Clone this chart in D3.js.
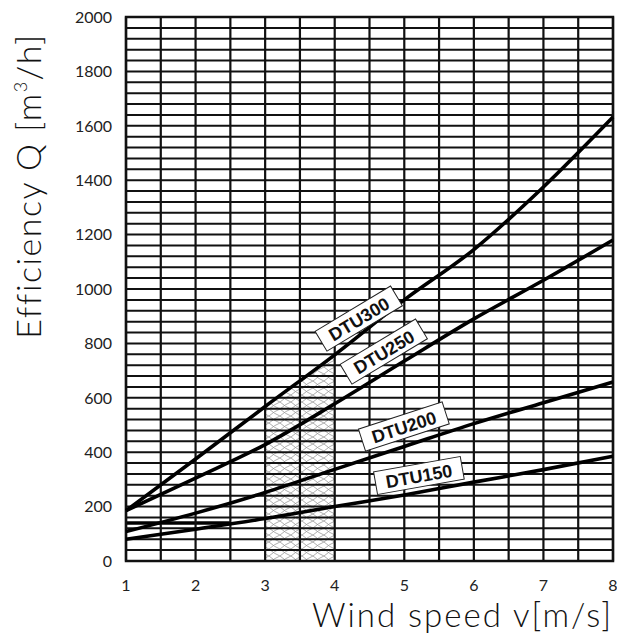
<!DOCTYPE html>
<html>
<head>
<meta charset="utf-8">
<script src="https://cdn.jsdelivr.net/npm/d3@7"></script>
<style>
  body { margin: 0; background: #fff; }
  text { font-family: "Lato", "DejaVu Sans", sans-serif; }
</style>
</head>
<body>
<script>
// wind speed values (m/s) at which the curves were read
const speeds = [1, 2, 3, 4, 5, 6, 7, 8];
const dtu300 = [185, 375, 568, 758, 960, 1145, 1375, 1632];
const dtu250 = [185, 305, 428, 578, 735, 890, 1032, 1180];
const dtu200 = [108, 176, 252, 337, 421, 505, 582, 658];
const dtu150 = [80, 117, 156, 200, 243, 290, 336, 385];
const xTicks = [1, 2, 3, 4, 5, 6, 7, 8];
const yTicks = [0, 200, 400, 600, 800, 1000, 1200, 1400, 1600, 1800, 2000];
const hatchRange = [3, 4];

// label boxes on the curves
const labels = [
  {name: "DTU300", cx: 359, cy: 319, angle: -31},
  {name: "DTU250", cx: 384, cy: 352, angle: -31},
  {name: "DTU200", cx: 404, cy: 427, angle: -18},
  {name: "DTU150", cx: 419, cy: 476, angle: -10}
];

const W = 617, H = 644;
const margin = {top: 17, right: 4, bottom: 83, left: 126},
    width = W - margin.left - margin.right,
    height = H - margin.top - margin.bottom;

const x = d3.scaleLinear().domain([1, 8]).range([0, width]);
const y = d3.scaleLinear().domain([0, 2000]).range([height, 0]);

const svg = d3.select("body").append("svg")
    .attr("width", W)
    .attr("height", H);

const defs = svg.append("defs");
const pat = defs.append("pattern")
    .attr("id", "hatch")
    .attr("patternUnits", "userSpaceOnUse")
    .attr("width", 11)
    .attr("height", 7);
pat.append("path")
    .attr("d", "M0,0 Q5.5,5 11,7 M0,7 Q5.5,2 11,0")
    .attr("stroke", "#999")
    .attr("stroke-width", 0.8)
    .attr("fill", "none");

const g = svg.append("g")
    .attr("transform", "translate(" + margin.left + "," + margin.top + ")");

const series = [dtu300, dtu250, dtu200, dtu150];
const line = d3.line()
    .x((d, i) => x(speeds[i]))
    .y(d => y(d))
    .curve(d3.curveMonotoneX);

// hatched zone between 3 and 4 m/s, up to the DTU300 curve
const hatchPts = d3.range(hatchRange[0], hatchRange[1] + 0.001, 0.05).map(v => {
    const i = Math.min(Math.floor(v) - 1, speeds.length - 2);
    const t = v - speeds[i];
    return [v, dtu300[i] + (dtu300[i + 1] - dtu300[i]) * t];
});
const area = d3.area()
    .x(d => x(d[0]))
    .y0(y(0))
    .y1(d => y(d[1]));
g.append("path")
    .datum(hatchPts)
    .attr("d", area)
    .attr("fill", "url(#hatch)");

// grid
const hLines = d3.range(0, 2001, 40);
g.selectAll(".hgrid")
    .data(hLines)
    .join("line")
    .attr("class", "hgrid")
    .attr("x1", 0)
    .attr("x2", width)
    .attr("y1", d => y(d))
    .attr("y2", d => y(d))
    .attr("stroke", "#111")
    .attr("stroke-width", 2);

// one gridline in the scan is printed heavier near the left edge
g.append("line")
    .attr("x1", x(1))
    .attr("x2", x(2.5))
    .attr("y1", y(140))
    .attr("y2", y(140))
    .attr("stroke", "#000")
    .attr("stroke-width", 3.5);

const vLines = d3.range(1, 8.01, 0.5);
g.selectAll(".vgrid")
    .data(vLines)
    .join("line")
    .attr("class", "vgrid")
    .attr("x1", d => x(d))
    .attr("x2", d => x(d))
    .attr("y1", 0)
    .attr("y2", height)
    .attr("stroke", "#111")
    .attr("stroke-width", 2.2);

g.append("rect")
    .attr("width", width)
    .attr("height", height)
    .attr("fill", "none")
    .attr("stroke", "#111")
    .attr("stroke-width", 2.5);

// curves
g.selectAll(".curve")
    .data(series)
    .join("path")
    .attr("class", "curve")
    .attr("d", line)
    .attr("fill", "none")
    .attr("stroke", "#000")
    .attr("stroke-width", 3.6);

// tick labels
svg.selectAll(".ytick")
    .data(yTicks)
    .join("text")
    .attr("class", "ytick")
    .attr("x", 112)
    .attr("y", d => margin.top + y(d))
    .attr("dy", "0.36em")
    .attr("text-anchor", "end")
    .attr("font-size", 16)
    .attr("fill", "#222")
    .text(d => d);

svg.selectAll(".xtick")
    .data(xTicks)
    .join("text")
    .attr("class", "xtick")
    .attr("x", d => margin.left + x(d))
    .attr("y", 591)
    .attr("text-anchor", "middle")
    .attr("font-size", 16)
    .attr("fill", "#222")
    .text(d => d);

// axis titles
const yt = svg.append("text")
    .attr("transform", "translate(41,186) rotate(-90)")
    .attr("text-anchor", "middle")
    .attr("font-size", 34)
    .attr("font-weight", 300)
    .attr("letter-spacing", 1.5)
    .attr("fill", "#111");
yt.append("tspan").text("Efficiency Q [m");
yt.append("tspan").attr("font-size", 18).attr("dy", -14).text("3");
yt.append("tspan").attr("dy", 14).text("/h]");

svg.append("text")
    .attr("x", 613)
    .attr("y", 627)
    .attr("text-anchor", "end")
    .attr("font-size", 33)
    .attr("font-weight", 300)
    .attr("letter-spacing", 2)
    .attr("fill", "#111")
    .text("Wind speed v[m/s]");

// curve labels
const lab = svg.selectAll(".lab")
    .data(labels)
    .join("g")
    .attr("class", "lab")
    .attr("transform", d => `translate(${d.cx},${d.cy}) rotate(${d.angle})`);
lab.append("rect")
    .attr("x", -44)
    .attr("y", -12)
    .attr("width", 88)
    .attr("height", 23)
    .attr("fill", "#fff")
    .attr("stroke", "#222")
    .attr("stroke-width", 1);
lab.append("text")
    .attr("text-anchor", "middle")
    .attr("dy", "0.36em")
    .style("font-family", "'Liberation Sans', Arial, sans-serif")
    .attr("font-size", 18)
    .attr("font-weight", "bold")
    .attr("fill", "#111")
    .text(d => d.name);
</script>
</body>
</html>
